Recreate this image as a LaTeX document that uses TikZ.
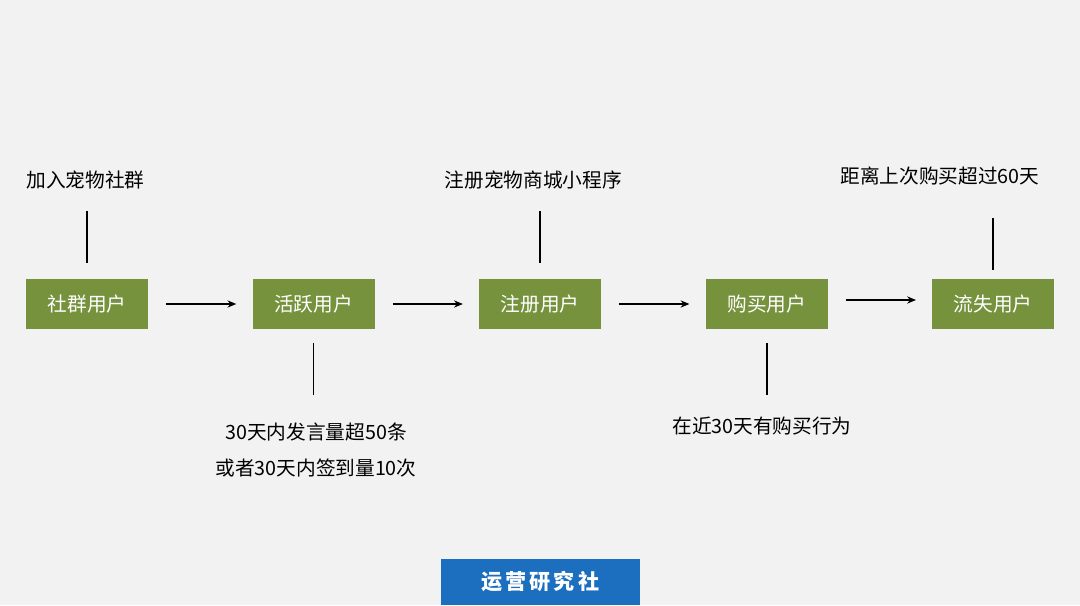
\documentclass[tikz,border=0pt]{standalone}
\usepackage{fontspec}
\setmainfont{Noto Sans CJK SC}
\newfontfamily\cjkwide[LetterSpace=14]{Noto Sans CJK SC}
\usepackage{tikz}
\usetikzlibrary{
  arrows.meta,
  positioning
}
\definecolor{paper}{RGB}{242,242,242}
\definecolor{olive}{RGB}{118,146,60}
\definecolor{brandblue}{RGB}{28,110,190}

\begin{document}
\begin{tikzpicture}[
  userbox/.style={
    fill=olive,
    text=white,
    font=\fontsize{14}{16}\selectfont,
    minimum width=3.05cm,
    minimum height=1.25cm,
    inner sep=0pt,
    align=center
  },
  rulelabel/.style={
    font=\fontsize{14}{25.5}\selectfont,
    text=black,
    inner sep=1pt,
    align=center
  },
  flowarrow/.style={
    -{Stealth[length=2.2mm,width=1.8mm]},
    line width=1pt,
    shorten <=0.45cm,
    shorten >=0.4cm
  },
  tick/.style={
    line width=1.3pt
  }
]
  % Background and frame
  \fill[paper] (0,0) rectangle (27,15.125);
  \useasboundingbox (0,0) rectangle (27,15.125);

  % User stages
  \node[userbox] (community) at (2.175,7.525) {社群用户};
  \node[userbox, right=2.6cm of community] (active) {活跃用户};
  \node[userbox, right=2.6cm of active] (registered) {注册用户};
  \node[userbox, right=2.6cm of registered] (buyer) {购买用户};
  \node[userbox, right=2.6cm of buyer] (lost) {流失用户};

  % Flow between stages
  \draw[flowarrow] (community) -- (active);
  \draw[flowarrow] (active) -- (registered);
  \draw[flowarrow] (registered) -- (buyer);
  \draw[flowarrow] ([yshift=0.1cm]buyer.east) -- ([yshift=0.1cm]lost.west);

  % Conditions above
  \node[rulelabel] (joinrule) at (2.14,10.625) {加入宠物社群};
  \node[rulelabel] (regrule) at (13.33,10.625) {注册宠物商城小程序};
  \node[rulelabel] (lostrule) at (23.5,10.725) {距离上次购买超过60天};

  \coordinate (joinend) at ([yshift=0.4cm]community.north);
  \coordinate (regend) at ([yshift=0.4cm]registered.north);
  \coordinate (lostend) at ([yshift=0.22cm]lost.north);
  \draw[tick] (joinend) -- ++(0,1.3);
  \draw[tick] (regend) -- ++(0,1.3);
  \draw[tick] (lostend) -- ++(0,1.3);

  % Conditions below
  \node[rulelabel] (activerule) at (7.9,3.875) {30天内发言量超50条\\或者30天内签到量10次};
  \node[rulelabel] (buyrule) at (19.05,4.475) {在近30天有购买行为};

  \coordinate (activeend) at ([yshift=-0.35cm]active.south);
  \coordinate (buyend) at ([yshift=-0.35cm]buyer.south);
  \draw[tick] (activeend) -- ++(0,-1.3);
  \draw[tick] (buyend) -- ++(0,-1.3);

  % Brand tag
  \node[fill=brandblue, text=white, font=\cjkwide\bfseries\fontsize{15}{18}\selectfont,
        minimum width=4.975cm, minimum height=1.15cm, inner sep=0pt, anchor=south]
        (brand) at (13.5125,0) {运营研究社};
\end{tikzpicture}
\end{document}
